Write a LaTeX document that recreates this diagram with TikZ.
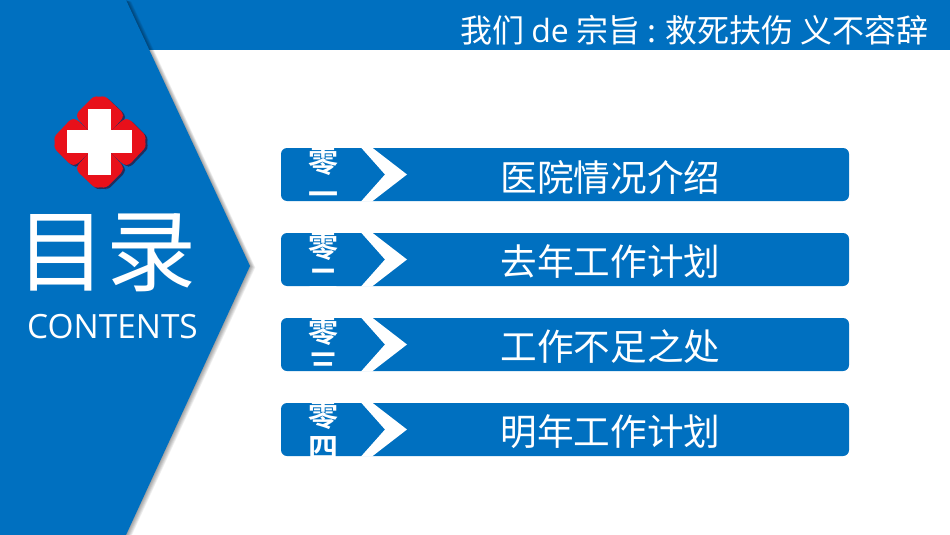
\documentclass[tikz,border=0pt]{standalone}
\usepackage{fontspec}
\setmainfont{Open Sans}
\newfontfamily\cjk{Noto Sans CJK SC}
\newfontfamily\cjkbold{Noto Sans CJK SC Bold}
\definecolor{mainblue}{HTML}{0070C0}
\definecolor{crossred}{HTML}{E8101A}
\definecolor{petalshadow}{HTML}{1F2F5F}
\tikzset{
  barbox/.style={fill=mainblue,draw=none,rounded corners=6pt},
  chevronshape/.style={fill=white,draw=none},
  numlabel/.style={text=white,font=\cjkbold\fontsize{30}{33}\selectfont,align=center,inner sep=0pt},
  rowlabel/.style={text=white,font=\cjk\fontsize{36.6}{40}\selectfont,inner sep=0pt},
  panel/.style={fill=mainblue,draw=none},
  petal/.pic={\path[pic actions,rounded corners=3pt] (-23,-29)--(-6,-46)--(-2,-45)--(5,-46)--(23,-29)--(23,-24)--(13,-13)--(0,0)--(-13,-13)--(-23,-24)--cycle;}
}
\begin{document}
\begin{tikzpicture}[x=1pt,y=-1pt]
\useasboundingbox (0,0) rectangle (950,535);
\fill[white] (0,0) rectangle (950,535);
% top band
\fill[mainblue] (126,0) rectangle (950,50);
% shadow of the side panel
\foreach \i in {1,...,7}{
  \fill[black,opacity=0.06,shift={(\i*0.75,\i*0.22)}] (0,0)--(126,0)--(250,266)--(126,535)--(0,535)--cycle;
}
\fill[white] (0,535) rectangle (950,536);
% side panel
\fill[panel] (0,0)--(126,0)--(250,266)--(126,535)--(0,535)--cycle;
% emblem
\begin{scope}[shift={(102,143.5)}]
  \foreach \a in {0,90,180,270}{\pic[fill=petalshadow,rotate=\a] {petal};}
\end{scope}
\begin{scope}[shift={(100,142)}]
  \foreach \a in {0,90,180,270}{\pic[fill=crossred,rotate=\a] {petal};}
\end{scope}
\fill[white] (88,109) rectangle (111,175);
\fill[white] (67,130) rectangle (132,153);
% titles
\node[text=white,inner sep=0pt,font=\cjk\fontsize{90}{95}\selectfont] (title) at (106.5,253) {目录};
\node[text=white,inner sep=0pt,font=\fontsize{33.4}{36}\selectfont] (contents) at (112.5,327) {CONTENTS};
\node[text=white,inner sep=0pt,anchor=east,font=\cjk\fontsize{32}{36}\selectfont] (slogan) at (929,30)
  {我们 {\fontspec{Open Sans}de} 宗旨 : 救死扶伤 义不容辞};
% rows
\foreach \y/\num/\lab [count=\n] in {
  148/一/医院情况介绍,
  233/二/去年工作计划,
  318/三/工作不足之处,
  403/四/明年工作计划}{
  \path[barbox] (281,\y) rectangle (849,\y+53);
  \fill[chevronshape] (361,\y-0.5)--(372,\y-0.5)--(407,\y+26.5)--(372,\y+53.5)--(361,\y+53.5)--(385,\y+26.5)--cycle;
  \node[numlabel] (num\n) at (323,\y+29) {零\\\num};
  \node[rowlabel] (row\n) at (610.5,\y+29) {\lab};
}
\end{tikzpicture}
\end{document}
